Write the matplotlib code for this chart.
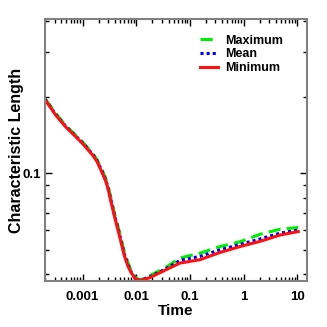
import numpy as np
import matplotlib
matplotlib.use("Agg")
import matplotlib.pyplot as plt
from matplotlib.ticker import LogLocator, FixedLocator, FuncFormatter, NullFormatter

# Data
time = [2.0e-4, 3.2e-4, 4.9e-4, 6.5e-4, 1.0e-3, 1.54e-3, 1.85e-3, 2.2e-3, 2.6e-3, 2.9e-3,
        3.4e-3, 3.9e-3, 4.9e-3, 6.0e-3, 7.0e-3, 8.1e-3, 9.5e-3, 1.16e-2, 1.78e-2,
        3.66e-2, 6.5e-2, 0.154, 0.366, 0.865, 2.05, 4.86, 10.5]
maximum = [0.197, 0.172, 0.154, 0.1455, 0.133, 0.120, 0.1135, 0.1055, 0.0975, 0.0915,
           0.0795, 0.070, 0.0585, 0.049, 0.0445, 0.0413, 0.0390, 0.0380, 0.0395,
           0.0428, 0.0464, 0.0485, 0.0515, 0.0538, 0.0576, 0.0603, 0.0612]
mean = [0.196, 0.170, 0.153, 0.1445, 0.132, 0.119, 0.1125, 0.1042, 0.0962, 0.0900,
        0.078, 0.069, 0.0573, 0.048, 0.0437, 0.0408, 0.0388, 0.0379, 0.0391,
        0.0422, 0.0454, 0.0471, 0.0500, 0.0525, 0.0552, 0.0582, 0.0598]
minimum = [0.195, 0.169, 0.152, 0.1435, 0.131, 0.118, 0.1115, 0.103, 0.095, 0.089,
           0.077, 0.068, 0.0564, 0.0474, 0.0431, 0.0405, 0.0386, 0.0378, 0.0388,
           0.0418, 0.0443, 0.0457, 0.0488, 0.0515, 0.0540, 0.0572, 0.0590]
x_ticks = [0.001, 0.01, 0.1, 1, 10]
x_ticklabels = ["0.001", "0.01", "0.1", "1", "10"]
y_ticks = [0.1]
y_ticklabels = ["0.1"]

plt.rcParams['font.family'] = ['Liberation Sans', 'DejaVu Sans']
plt.rcParams['font.weight'] = 'bold'

fig = plt.figure(figsize=(3.27, 3.27), dpi=100)
ax = fig.add_axes([0.138, 0.141, 0.801, 0.800])

ax.plot(time, maximum, color='#00ee00', lw=2.2, ls=(0, (4, 2)), label='Maximum')
ax.plot(time, mean, color='#0000ee', lw=2.2, ls=(0, (1, 1)), label='Mean')
ax.plot(time, minimum, color='#ff1010', lw=2.2, ls='-', label='Minimum')

ax.set_xscale('log')
ax.set_yscale('log')
ax.set_xlim(2.0e-4, 15.3)
ax.set_ylim(0.0377, 0.405)

ax.xaxis.set_major_locator(FixedLocator(x_ticks))
ax.xaxis.set_major_formatter(FuncFormatter(lambda v, p: x_ticklabels[p] if p is not None and p < len(x_ticklabels) else ""))
ax.xaxis.set_minor_locator(LogLocator(base=10, subs=np.arange(2, 10), numticks=20))
ax.xaxis.set_minor_formatter(NullFormatter())
ax.yaxis.set_major_locator(FixedLocator(y_ticks))
ax.yaxis.set_major_formatter(FuncFormatter(lambda v, p: y_ticklabels[0]))
ax.yaxis.set_minor_locator(LogLocator(base=10, subs=np.arange(2, 10), numticks=20))
ax.yaxis.set_minor_formatter(NullFormatter())

ax.tick_params(which='both', direction='in', top=True, right=True, color='black', width=1)
ax.tick_params(which='major', length=5, labelsize=9.5)
ax.tick_params(axis='x', which='major', pad=7)
ax.tick_params(axis='y', which='major', pad=3)
ax.tick_params(which='minor', length=3)
for lab in ax.get_xticklabels() + ax.get_yticklabels():
    lab.set_fontweight('bold')

for s in ax.spines.values():
    s.set_color('#808080')
    s.set_linewidth(1.5)

ax.set_xlabel('Time', fontsize=11, fontweight='bold', labelpad=1)
ax.set_ylabel('Characteristic Length', fontsize=11.5, fontweight='bold', labelpad=-1)

leg = ax.legend(loc='upper right', frameon=False, fontsize=9, handlelength=1.45,
                handletextpad=0.55, labelspacing=0.15, borderaxespad=0.4,
                bbox_to_anchor=(0.945, 0.98))
for t in leg.get_texts():
    t.set_fontweight('bold')

fig.savefig('out.png', dpi=100)
